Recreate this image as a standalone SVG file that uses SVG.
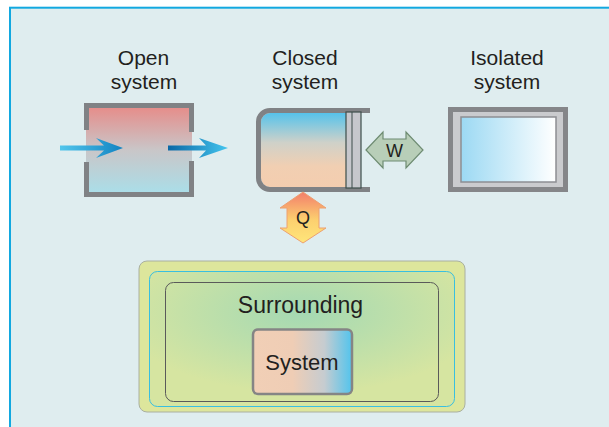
<svg xmlns="http://www.w3.org/2000/svg" width="609" height="427" viewBox="0 0 609 427">
  <defs>
    <style>
      .lbl { font-family: "Liberation Sans", Arial, sans-serif; fill: #231f20; text-anchor: middle; }
      .title { font-size: 21px; }
      .wall { fill: none; stroke: #808285; stroke-width: 5; }
    </style>
    <linearGradient id="openFill" x1="0" y1="0" x2="0" y2="1">
      <stop offset="0" stop-color="#e78a87"/>
      <stop offset="0.5" stop-color="#c9c6c8"/>
      <stop offset="1" stop-color="#a9dfea"/>
    </linearGradient>
    <linearGradient id="inArrow" x1="0" y1="0" x2="1" y2="0">
      <stop offset="0" stop-color="#52c6ec"/>
      <stop offset="1" stop-color="#1283c2"/>
    </linearGradient>
    <linearGradient id="outArrow" x1="0" y1="0" x2="1" y2="0">
      <stop offset="0" stop-color="#0a68a6"/>
      <stop offset="1" stop-color="#44c5ee"/>
    </linearGradient>
    <linearGradient id="closedFill" x1="0" y1="0" x2="0" y2="1">
      <stop offset="0" stop-color="#56c3eb"/>
      <stop offset="0.4" stop-color="#cfd1c9"/>
      <stop offset="0.72" stop-color="#f1cfb2"/>
      <stop offset="1" stop-color="#f4cdaf"/>
    </linearGradient>
    <linearGradient id="isoFill" x1="0" y1="0" x2="1" y2="0">
      <stop offset="0" stop-color="#9cd9f3"/>
      <stop offset="1" stop-color="#ffffff"/>
    </linearGradient>
    <linearGradient id="qFill" x1="0" y1="0" x2="0" y2="1">
      <stop offset="0" stop-color="#f37d6b"/>
      <stop offset="0.55" stop-color="#fcd06f"/>
      <stop offset="1" stop-color="#ffe67a"/>
    </linearGradient>
    <radialGradient id="surrFill" cx="0.5" cy="0.3" r="0.6">
      <stop offset="0" stop-color="#a4d9b3"/>
      <stop offset="1" stop-color="#d6e5a1"/>
    </radialGradient>
    <linearGradient id="sysFill" x1="0" y1="0" x2="1" y2="0">
      <stop offset="0" stop-color="#f1cfb6"/>
      <stop offset="0.4" stop-color="#efcdb5"/>
      <stop offset="0.72" stop-color="#c6ccd0"/>
      <stop offset="1" stop-color="#52c4ed"/>
    </linearGradient>
  </defs>

  <!-- frame -->
  <rect x="10" y="7.7" width="640" height="460" fill="#dfedef" stroke="#12a8e0" stroke-width="2"/>

  <!-- open system -->
  <g id="open-system">
    <rect x="86" y="105" width="106" height="90" fill="url(#openFill)"/>
    <path class="wall" d="M86.5,130 V105.5 H191.5 V132 M86.5,162 V194.5 H191.5 V161"/>
    <polygon points="60,145.5 104,145.5 96,138 123,148 96,158 104,150.5 60,150.5" fill="url(#inArrow)"/>
    <polygon points="168,145.5 206,145.5 199,138 228,148 199,158 206,150.5 168,150.5" fill="url(#outArrow)"/>
    <text class="lbl title" x="143.5" y="65">Open<tspan x="144" dy="23.6">system</tspan></text>
  </g>

  <!-- closed system -->
  <g id="closed-system">
    <path d="M346,113 H270 A9,9 0 0 0 261,122 V178 A9,9 0 0 0 270,187 H346 Z" fill="url(#closedFill)"/>
    <path class="wall" d="M370,110.5 H270 A11.5,11.5 0 0 0 258.5,122 V178 A11.5,11.5 0 0 0 270,189.5 H370"/>
    <rect x="346" y="112" width="15" height="76" fill="#c6c7cc" stroke="#3d4d4a" stroke-width="1.2"/>
    <line x1="352" y1="112" x2="352" y2="188" stroke="#3d4d4a" stroke-width="1"/>
    <text class="lbl title" x="305" y="65">Closed<tspan x="305" dy="23.6">system</tspan></text>
  </g>

  <!-- isolated system -->
  <g id="isolated-system">
    <rect x="448" y="107" width="120" height="85" fill="#858689"/>
    <rect x="453" y="112" width="110" height="75" fill="#cacbce"/>
    <rect x="461" y="117" width="95" height="65" fill="url(#isoFill)" stroke="#8d8e93" stroke-width="1.5"/>
    <text class="lbl title" x="507" y="65">Isolated<tspan x="507" dy="23.6">system</tspan></text>
  </g>

  <!-- exchange arrows -->
  <g id="connectors">
    <g id="work">
      <polygon points="366,150 383,132 383,139 406,139 406,132 423,150 406,168 406,161 383,161 383,168" fill="#b8ceb8" stroke="#6e8c72" stroke-width="1.2"/>
      <text class="lbl" x="394.5" y="157" font-size="18">W</text>
    </g>
    <g id="heat">
      <polygon points="303,192 326,208 319,208 319,228 326,228 303,243 280,228 287,228 287,208 280,208" fill="url(#qFill)" stroke="#eda070" stroke-width="1"/>
      <text class="lbl" x="303" y="224" font-size="18">Q</text>
    </g>
  </g>

  <!-- surrounding / system panel -->
  <g id="surrounding">
    <rect x="139" y="261" width="326" height="151" rx="8" fill="#dde69c" stroke="#aab0a0" stroke-width="1"/>
    <rect x="149.5" y="271.5" width="305" height="135" rx="8" fill="url(#surrFill)" stroke="#39bfe0" stroke-width="1"/>
    <rect x="165.5" y="282.5" width="273" height="119" rx="8" fill="none" stroke="#5a5a5a" stroke-width="1"/>
    <text class="lbl" x="300.5" y="313" font-size="23">Surrounding</text>
  </g>
  <g id="system">
    <rect x="253" y="329.5" width="99" height="64.5" rx="5" fill="url(#sysFill)" stroke="#858585" stroke-width="2.5"/>
    <text class="lbl" x="302" y="370" font-size="22">System</text>
  </g>
</svg>
